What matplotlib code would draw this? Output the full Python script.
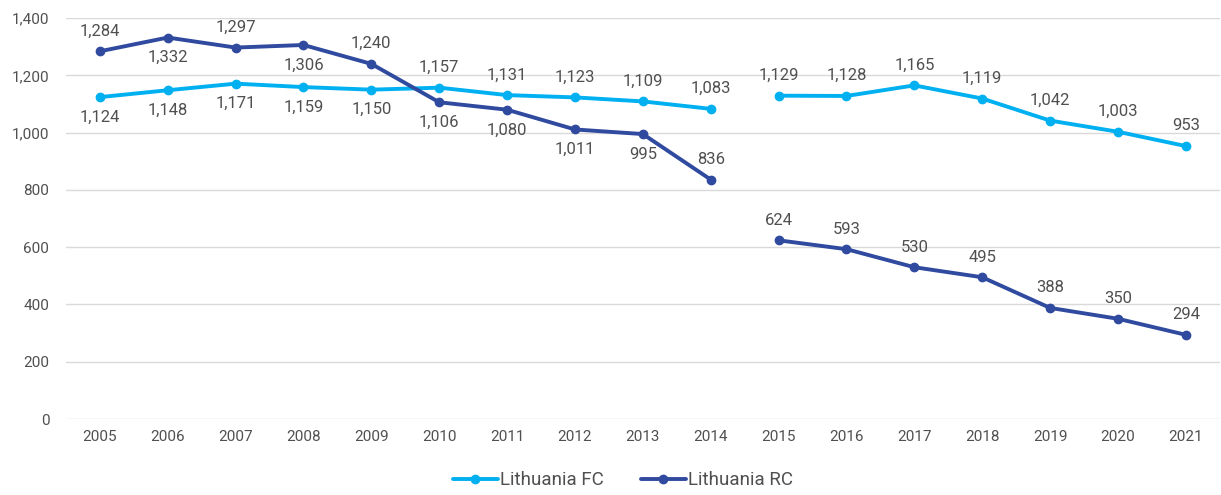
import matplotlib.pyplot as plt
import numpy as np

plt.rcParams['font.family'] = ['Roboto', 'DejaVu Sans']

years = [str(y) for y in range(2005, 2022)]
fc = [1124, 1148, 1171, 1159, 1150, 1157, 1131, 1123, 1109, 1083,
      1129, 1128, 1165, 1119, 1042, 1003, 953]
rc = [1284, 1332, 1297, 1306, 1240, 1106, 1080, 1011, 995, 836,
      624, 593, 530, 495, 388, 350, 294]
# the line breaks between 2014 and 2015
gap_after = 9

# label position: 1 above, -1 below
fc_pos = [-1] * 5 + [1] * 12
rc_pos = [1, -1, 1, -1, 1, -1, -1, -1, -1, 1] + [1] * 7

c_fc = '#00B0F0'
c_rc = '#2F4A9E'
txt = '#505050'

fig = plt.figure(figsize=(12.21, 4.95), dpi=100)
ax = fig.add_axes([0.054, 0.1535, 0.945, 0.81])

x = np.arange(len(years))
for vals, col, name, pos in [(fc, c_fc, 'Lithuania FC', fc_pos), (rc, c_rc, 'Lithuania RC', rc_pos)]:
    v = np.array(vals, dtype=float)
    ax.plot(x[:gap_after + 1], v[:gap_after + 1], color=col, lw=2.8, marker='o', ms=6,
            solid_capstyle='round', label=name)
    ax.plot(x[gap_after + 1:], v[gap_after + 1:], color=col, lw=2.8, marker='o', ms=6,
            solid_capstyle='round')
    for xi, yi, p in zip(x, v, pos):
        ax.annotate(f'{int(yi):,}', (xi, yi), xytext=(0, 14.5 * p), textcoords='offset points',
                    ha='center', va='center', fontsize=12, color=txt)

ax.set_xlim(-0.5, len(years) - 0.5)
ax.set_ylim(0, 1400)
ax.set_yticks(range(0, 1401, 200))
ax.yaxis.set_major_formatter(plt.FuncFormatter(lambda v, p: f'{int(v):,}'))
ax.set_xticks(x)
ax.set_xticklabels(years)
ax.grid(axis='y', color='#D9D9D9', lw=1)
ax.set_axisbelow(True)
for s in ax.spines.values():
    s.set_visible(False)
ax.tick_params(length=0, colors=txt, labelsize=11)
ax.tick_params(axis='y', pad=12)
ax.tick_params(axis='x', pad=8)

fig.legend(*ax.get_legend_handles_labels(), loc='upper center', bbox_to_anchor=(0.51, 0.082),
           ncol=2, frameon=False, fontsize=13.5, labelcolor=txt, handlelength=2.4,
           handletextpad=0.1, columnspacing=2.0)

fig.savefig('out.png', dpi=100)
